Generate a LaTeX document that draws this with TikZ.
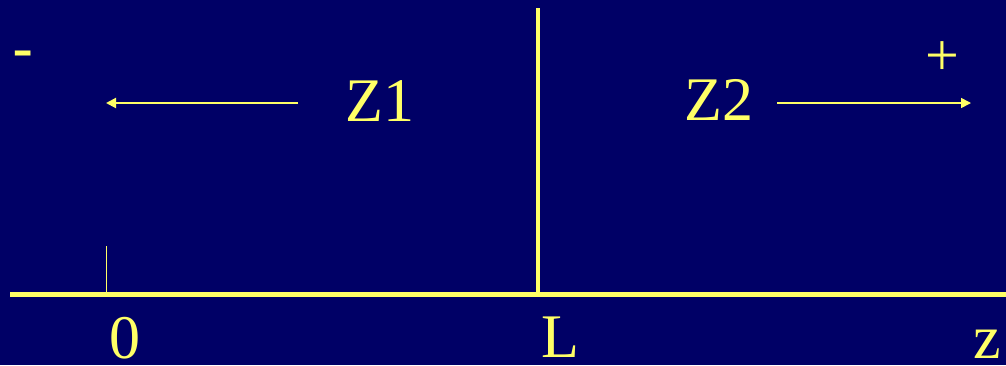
\documentclass[tikz,border=0pt]{standalone}
\usepackage{fontspec}
\setmainfont{Liberation Serif}
\newfontfamily\sansf{Liberation Sans}
\usetikzlibrary{arrows.meta}
\definecolor{bgblue}{HTML}{000066}
\definecolor{ylw}{HTML}{FFFF66}
\tikzset{
  lbl/.style={text=ylw, inner sep=0pt, anchor=base, font=\fontsize{62}{62}\selectfont},
  sign/.style={text=ylw, inner sep=0pt, anchor=base, font=\fontsize{60}{60}\selectfont},
  axisline/.style={draw=ylw, line width=5pt},
  wall/.style={draw=ylw, line width=4pt},
  tickline/.style={draw=ylw, line width=1pt},
  dirarrow/.style={draw=ylw, line width=2pt, -{Triangle[length=10pt,width=10pt]}}
}
\begin{document}
\begin{tikzpicture}[x=1pt,y=-1pt]
\fill[bgblue] (0,0) rectangle (1006,365);
\useasboundingbox (0,0) rectangle (1006,365);
% axis
\coordinate (axL) at (10,294);
\coordinate (axR) at (1006,294);
\path[axisline] (axL) -- (axR);
% tick at 0
\coordinate (tick0) at (106,294);
\coordinate (tickTop) at (106,246);
\path[tickline] (tick0) -- (tickTop);
% wall at L
\coordinate (wallB) at (538,296);
\coordinate (wallT) at (538,8);
\path[wall] (wallB) -- (wallT);
% labels
\node[lbl] (z1) at (380,121) {Z1};
\node[lbl] (z2) at (719,120) {Z2};
\node[lbl] (zero) at (125,358) {0};
\node[lbl] (L) at (560,357) {L};
\node[lbl] (z) at (987,358) {z};
\node[sign, font=\sansf\fontsize{64}{64}\selectfont] (minus) at (23,70) {-};
\node[sign] (plus) at (942,75) {+};
% arrows
\coordinate (a1s) at (298,103);
\coordinate (a1e) at (106,103);
\coordinate (a2s) at (777,103);
\coordinate (a2e) at (971,103);
\path[dirarrow] (a1s) -- (a1e);
\path[dirarrow, line width=1.6pt] (a2s) -- (a2e);
\end{tikzpicture}
\end{document}
